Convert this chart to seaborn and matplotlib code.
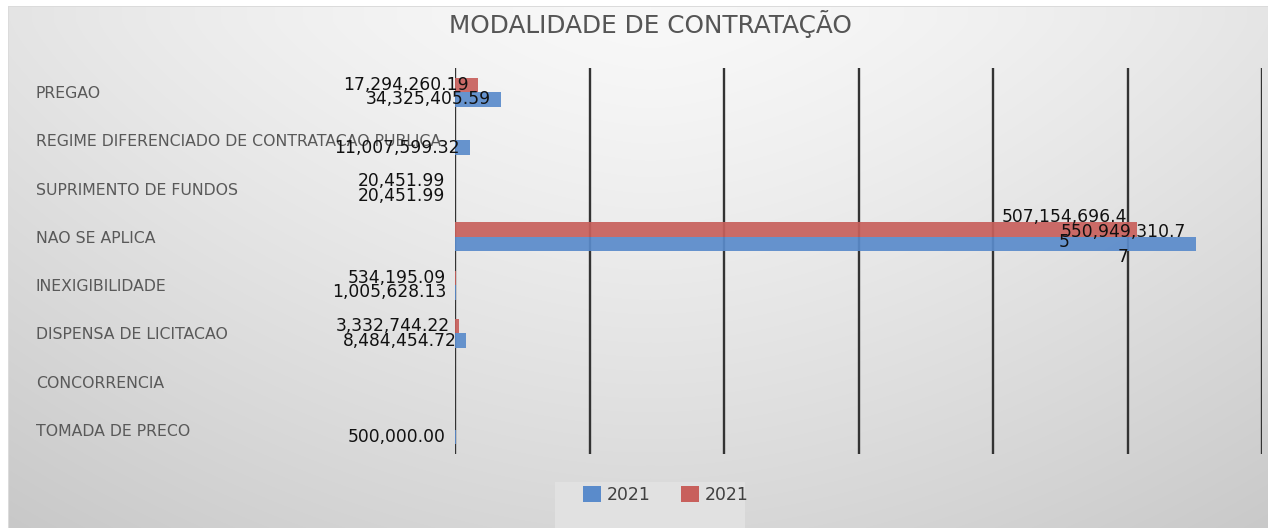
import numpy as np
import pandas as pd
import matplotlib
matplotlib.use("Agg")
import matplotlib.pyplot as plt
import seaborn as sns
from matplotlib.patches import Patch, Rectangle

# ---------------- data ----------------
categorias = [
    "PREGAO",
    "REGIME DIFERENCIADO DE CONTRATACAO PUBLICA",
    "SUPRIMENTO DE FUNDOS",
    "NAO SE APLICA",
    "INEXIGIBILIDADE",
    "DISPENSA DE LICITACAO",
    "CONCORRENCIA",
    "TOMADA DE PRECO",
]
serie_azul = [34325405.59, 11007599.32, 20451.99, 550949310.77,
              1005628.13, 8484454.72, np.nan, 500000.00]
serie_vermelha = [17294260.19, np.nan, 20451.99, 507154696.45,
                  534195.09, 3332744.22, np.nan, np.nan]
rotulos_legenda = ["2021", "2021"]
titulo = "MODALIDADE DE CONTRATAÇÃO"

# ---------------- figure ----------------
W, H = 1268, 528
fig = plt.figure(figsize=(W / 100, H / 100), dpi=100)

# background gradient (light at top centre, darker towards bottom corners)
yy, xx = np.mgrid[0:H, 0:W]
dx = np.abs(xx - 650) / 640.0
dy = np.clip(yy - 20, 0, None) / 510.0
val = 248 - 20 * dx ** 1.5 - 33 * dy ** 1.2 + 5 * dx * dy
img = np.repeat((val / 255.0)[:, :, None], 3, axis=2)
img[:6, :, :] = 1.0
img[:, :8, :] = 1.0
img[6, 8:, :] = 0.86
img[6:, 8, :] = 0.86
bg = fig.add_axes([0, 0, 1, 1])
bg.imshow(img, aspect="auto", extent=(0, W, H, 0), interpolation="bilinear")
bg.axis("off")
bg.set_zorder(-2)

# legend background box
fig.patches.append(Rectangle((555 / W, 0), 190 / W, (H - 482) / H,
                             transform=fig.transFigure, facecolor="#e1e1e1",
                             edgecolor="none", zorder=-1))

# main axes
ax = fig.add_axes([455 / W, 1 - 454 / H, (1262 - 455) / W, (454 - 68) / H])
ax.set_zorder(1)
ax.patch.set_alpha(0)

df = pd.concat([
    pd.DataFrame({"modalidade": categorias, "valor": serie_vermelha, "serie": "vermelha"}),
    pd.DataFrame({"modalidade": categorias, "valor": serie_azul, "serie": "azul"}),
]).dropna()

cores = {"azul": "#5A8BCB", "vermelha": "#C8605C"}
sns.barplot(data=df, x="valor", y="modalidade", hue="serie",
            order=categorias, hue_order=["vermelha", "azul"],
            palette=cores, orient="h", width=0.6, saturation=1,
            legend=False, alpha=0.92, ax=ax)

ax.set_xlim(0, 600e6)
ax.set_ylim(len(categorias) - 0.5, -0.5)
ax.set_xticks(np.arange(0, 600e6 + 1, 100e6))
ax.set_xticklabels([])
ax.tick_params(axis="x", length=0)
ax.grid(axis="x", color="#333333", linewidth=1.7)
ax.grid(axis="y", visible=False)
ax.set_axisbelow(True)
for s in ax.spines.values():
    s.set_visible(False)
ax.set_xlabel("")
ax.set_ylabel("")
ax.tick_params(axis="y", length=0, pad=(455 - 36) * 72 / 100,
               labelsize=11.3, labelcolor="#595959")
for t in ax.get_yticklabels():
    t.set_horizontalalignment("left")

# data labels (inside end, right aligned)
for p in ax.patches:
    v = p.get_width()
    if not np.isfinite(v) or v <= 0:
        continue
    s = f"{v:,.2f}"
    if v > 1e8:
        s = s[:-1] + "\n" + s[-1]
    yc = p.get_y() + p.get_height() / 2
    ax.annotate(s, xy=(v, yc), xytext=(-10, 0), textcoords="offset pixels",
                ha="right", va="center", multialignment="center",
                fontsize=12.3, color="#111111", linespacing=1.5,
                annotation_clip=False, zorder=5)

# title
fig.text(650 / W, 1 - 24 / H, titulo, ha="center", va="center",
         fontsize=17.8, color="#555555")

# legend
handles = [Patch(facecolor=cores["azul"]), Patch(facecolor=cores["vermelha"])]
fig.legend(handles, rotulos_legenda, loc="center left",
           bbox_to_anchor=(583 / W, 1 - 495 / H), ncol=2, frameon=False,
           fontsize=12.4, labelcolor="#404040", handlelength=1.05,
           handleheight=1.05, handletextpad=0.35, columnspacing=1.75,
           borderpad=0, borderaxespad=0)

fig.savefig("out.png", dpi=100)
